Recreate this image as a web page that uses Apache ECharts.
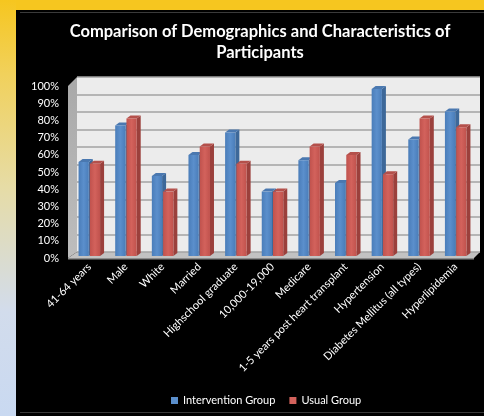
<!DOCTYPE html>
<html>
<head>
<meta charset="utf-8">
<script src="https://cdn.jsdelivr.net/npm/echarts@6/dist/echarts.min.js"></script>
<style>
  html, body { margin: 0; padding: 0; background: #000; }
  #frame { position: relative; width: 484px; height: 416px; overflow: hidden; background: #000; }
  #topbar { position: absolute; left: 0; top: 0; width: 484px; height: 10px; background: #f6c61f; }
  #side { position: absolute; left: 0; top: 0; width: 16px; height: 416px;
    background: linear-gradient(to bottom, #f6c61f 0%, #f1d15c 18%, #e6dca6 45%, #d2dcec 75%, #c9d9f1 100%); }
  #line1 { position: absolute; left: 20px; top: 12px; width: 464px; height: 1px; background: #3a3a3a; }
  #line2 { position: absolute; left: 20px; top: 412px; width: 464px; height: 1px; background: #3a3a3a; }
  #chart { position: absolute; left: 0; top: 0; width: 484px; height: 416px; }
</style>
</head>
<body>
<div id="frame">
  <div id="topbar"></div>
  <div id="side"></div>
  <div id="line1"></div>
  <div id="line2"></div>
  <div id="chart"></div>
</div>
<script>
const categories = ['41-64 years', 'Male', 'White', 'Married', 'Highschool graduate', '10,000-19,000',
  'Medicare', '1-5 years post heart transplant', 'Hypertension', 'Diabetes Mellitus (all types)', 'Hyperlipidemia'];
const interventionGroup = [54, 75, 46, 58, 71, 37, 55, 42, 96, 67, 83];
const usualGroup = [53, 79, 37, 63, 53, 37, 63, 58, 47, 79, 74];
const percentTicks = [0, 10, 20, 30, 40, 50, 60, 70, 80, 90, 100];

const blue = { front: '#5b8fcc', side: '#3d6899', top: '#4a78b0', edge: '#4a7db9' };
const red = { front: '#d3625c', side: '#9b403c', top: '#b4504b', edge: '#c0524d' };

// one 3d-looking column: front face, right side, top
const box = (dir, col) => (params, api) => {
  const top = api.coord([api.value(0), api.value(1)]);
  const base = api.coord([api.value(0), 0]);
  const band = api.size([1, 0])[0];
  const w = band * 0.28;
  const x0 = dir < 0 ? top[0] - w - 0.5 : top[0] + 0.5;
  const dx = 4, dy = 3;
  return {
    type: 'group',
    children: [
      { type: 'polygon', shape: { points: [[x0 + w, top[1]], [x0 + w + dx, top[1] - dy], [x0 + w + dx, base[1] - dy], [x0 + w, base[1]]] },
        style: { fill: col.side } },
      { type: 'polygon', shape: { points: [[x0, top[1]], [x0 + dx, top[1] - dy], [x0 + w + dx, top[1] - dy], [x0 + w, top[1]]] },
        style: { fill: col.top } },
      { type: 'rect', shape: { x: x0, y: top[1], width: w, height: base[1] - top[1] },
        style: { fill: new echarts.graphic.LinearGradient(0, 0, 1, 0, [
          { offset: 0, color: col.edge }, { offset: 0.5, color: col.front }, { offset: 1, color: col.edge }]) } }
    ]
  };
};

const myChart = echarts.init(document.getElementById('chart'), null, { renderer: 'canvas' });

const option = {
  backgroundColor: 'transparent',
  animation: false,
  title: {
    text: 'Comparison of Demographics and Characteristics of\nParticipants',
    left: 255, top: 16, textAlign: 'center',
    textStyle: { color: '#fff', fontFamily: 'Lato', fontWeight: 'bold', fontSize: 16.5, lineHeight: 21 }
  },
  legend: {
    bottom: 5, left: 166, orient: 'horizontal',
    itemWidth: 7, itemHeight: 7, itemGap: 14, icon: 'rect',
    textStyle: { color: '#fff', fontFamily: 'Lato', fontSize: 11 },
    data: ['Intervention Group', 'Usual Group'],
    align: 'left'
  },
  graphic: [
    // left wall
    { type: 'polygon', shape: { points: [[68, 86], [77, 77], [77, 252], [68, 258]] },
      style: { fill: new echarts.graphic.LinearGradient(0, 0, 0, 1, [{ offset: 0, color: '#a9a9a9' }, { offset: 1, color: '#bdbdbd' }]) }, z: 0 },
    // floor
    { type: 'polygon', shape: { points: [[68, 258], [77, 252], [480, 252], [474, 258]] }, style: { fill: '#c2c2c2' }, z: 0 },
    { type: 'rect', shape: { x: 68, y: 258, width: 406, height: 1.5 }, style: { fill: '#8c8c8c' }, z: 0 }
  ],
  grid: [
    { left: 71, right: 10, top: 82, bottom: 160 },   // bars
    { left: 77, right: 4, top: 77, bottom: 164, show: true, backgroundColor: '#ececec', borderWidth: 0 }, // back wall
    { left: 71, right: 10, top: 86, bottom: 158 }    // front labels
  ],
  xAxis: [
    { gridIndex: 0, type: 'category', data: categories,
      axisLine: { show: false }, axisTick: { show: false },
      axisLabel: { rotate: 45, interval: 0, color: '#fff', fontFamily: 'Lato', fontSize: 11, margin: 9 } },
    { gridIndex: 1, type: 'value', show: false, min: 0, max: 1 },
    { gridIndex: 2, type: 'value', show: false, min: 0, max: 1 }
  ],
  yAxis: [
    { gridIndex: 0, type: 'value', min: 0, max: 100, interval: 10, show: false },
    { gridIndex: 1, type: 'value', min: 0, max: 100, interval: 10,
      axisLabel: { show: false }, axisLine: { show: false }, axisTick: { show: false },
      splitLine: { lineStyle: { color: '#a3a3a3', width: 1.5 } } },
    { gridIndex: 2, type: 'value', min: 0, max: 100, interval: 10,
      axisLine: { show: false }, axisTick: { show: false }, splitLine: { show: false },
      axisLabel: { color: '#fff', fontFamily: 'Lato', fontSize: 11, margin: 12,
        formatter: v => percentTicks.includes(v) ? v + '%' : '' } }
  ],
  series: [
    { name: 'Intervention Group', type: 'custom', xAxisIndex: 0, yAxisIndex: 0, z: 5,
      itemStyle: { color: blue.front },
      renderItem: box(-1, blue),
      data: interventionGroup.map((v, i) => [i, v]) },
    { name: 'Usual Group', type: 'custom', xAxisIndex: 0, yAxisIndex: 0, z: 6,
      itemStyle: { color: red.front },
      renderItem: box(1, red),
      data: usualGroup.map((v, i) => [i, v]) }
  ]
};

myChart.setOption(option);
</script>
</body>
</html>
